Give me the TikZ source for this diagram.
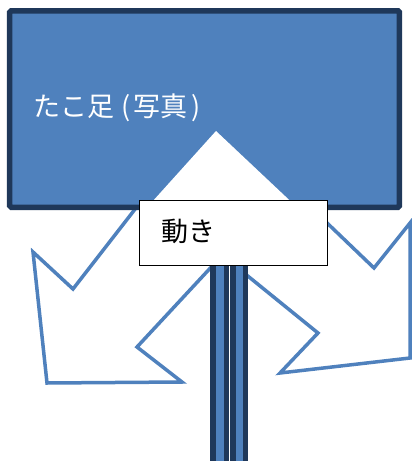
\documentclass[tikz,border=0pt]{standalone}
\usepackage{fontspec}
\newfontfamily\cjk{Noto Sans CJK JP}
\definecolor{accent}{RGB}{79,129,189}
\definecolor{darkb}{RGB}{31,56,90}
\begin{document}
\begin{tikzpicture}[x=1pt,y=-1pt,
  arrowshape/.style={fill=white,draw=accent,line width=3.5pt,line join=miter},
  barstrip/.style={fill=accent,draw=darkb,line width=5.5pt},
  panelbox/.style={draw=darkb,fill=accent,line width=5.5pt,rounded corners=1.5pt,inner sep=0pt},
  labelbox/.style={draw=black,fill=white,line width=0.8pt,inner sep=0pt}]
\useasboundingbox (0,0) rectangle (412,461);
% left arrow (down-left)
\draw[arrowshape] (181,150) -- (73,289) -- (33,252) -- (47,383) -- (182,382) -- (137,347) -- (280,193) -- cycle;
% right arrow (down-right)
\draw[arrowshape] (251,150) -- (374,268) -- (410,223) -- (410,358) -- (280,373) -- (318,333) -- (148,195) -- cycle;
% blue panel
\node[panelbox,minimum width=389.75pt,minimum height=196.5pt] (panel) at (204.6,109) {};
\node[anchor=west,text=white,font=\cjk\fontsize{27}{27}\selectfont,inner sep=0pt] (title) at (33,108) {たこ足\kern7pt(\kern3pt写真\kern4pt)};
% white notch
\fill[white] (216,131) -- (143,212) -- (302,212) -- cycle;
% bar
\draw[barstrip] (212.75,255) rectangle (226.25,470);
\draw[barstrip] (232.75,255) rectangle (245.25,470);
% label box
\node[labelbox,minimum width=188pt,minimum height=65pt] (box) at (233,232.5) {};
\node[anchor=west,font=\cjk\fontsize{27}{27}\selectfont,inner sep=0pt] (move) at (161,231) {動き};
\end{tikzpicture}
\end{document}
